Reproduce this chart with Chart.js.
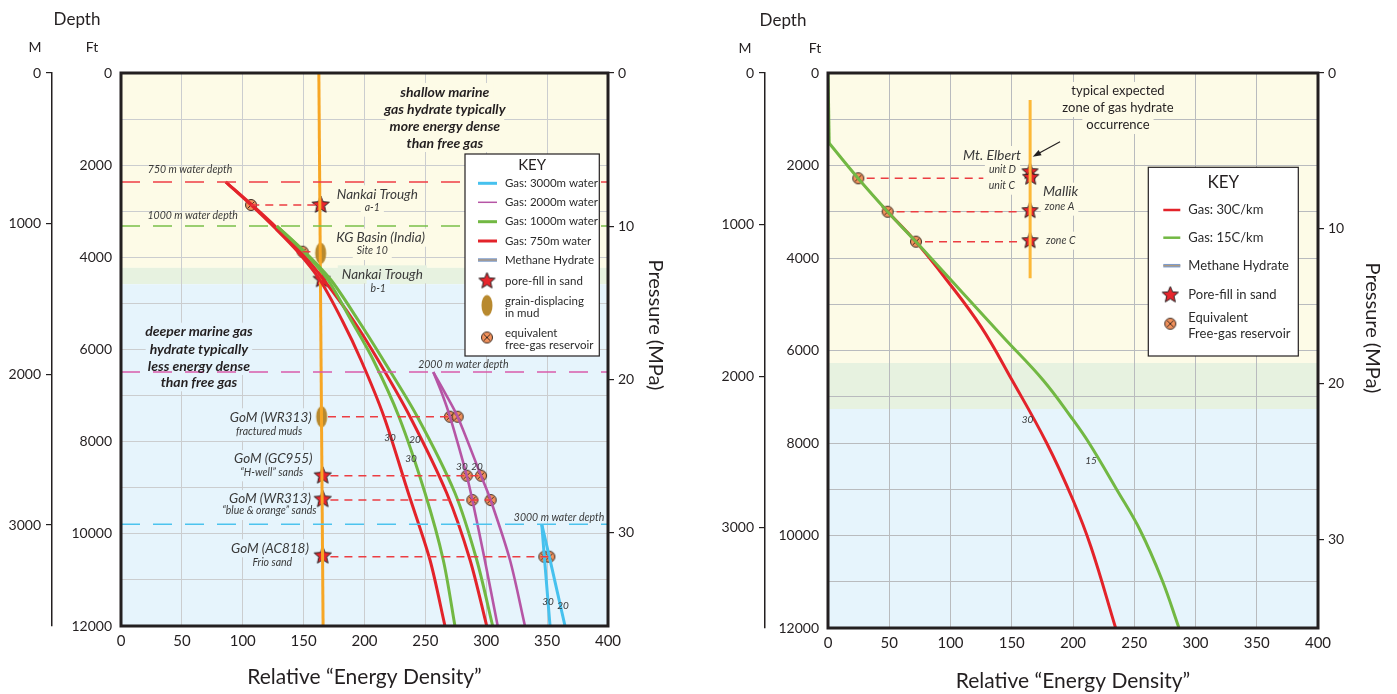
<!DOCTYPE html>
<html>
<head>
<meta charset="utf-8">
<script src="https://cdn.jsdelivr.net/npm/chart.js@4.4.0/dist/chart.umd.min.js"></script>
<style>
  body { margin: 0; background: #fff; }
  #wrap { position: relative; width: 1397px; height: 694px; }
  #marineCanvas { position: absolute; left: 0; top: 0; }
  #permafrostCanvas { position: absolute; left: 698px; top: 0; }
</style>
</head>
<body>
<div id="wrap">
  <canvas id="marineCanvas" width="698" height="694"></canvas>
  <canvas id="permafrostCanvas" width="699" height="694"></canvas>
</div>
<script>
// ---------------- axes ----------------
var energyTicks = [0, 50, 100, 150, 200, 250, 300, 350, 400];
var feetTicks = [0, 1000, 2000, 3000, 4000, 5000, 6000, 7000, 8000, 9000, 10000, 11000, 12000];
var feetLabels = [0, 2000, 4000, 6000, 8000, 10000, 12000];
var meterTicks = [0, 1000, 2000, 3000];
var mpaTicks = [0, 10, 20, 30];

// ---------------- left panel: marine (x = energy density, y = depth ft) ----------------
var gas750_30 = [[86, 2365], [106.8, 2864], [126.5, 3364], [145.4, 3884], [163.4, 4492], [181.5, 5360], [197.1, 6228], [216, 7458], [236, 9114], [253.8, 10568], [266.1, 12000]];
var gas750_20 = [[86, 2365], [107.6, 2864], [128.1, 3364], [147.8, 3884], [166.7, 4492], [190.6, 5360], [211.1, 6228], [237.4, 7458], [267.5, 9114], [286.7, 10568], [300.4, 12000]];
var gas1000_30 = [[128, 3320], [150.3, 3884], [170, 4492], [188.9, 5360], [207.2, 6228], [228.3, 7458], [249.7, 9114], [264.7, 10568], [274.3, 12000]];
var gas1000_20 = [[128, 3320], [151.1, 3884], [172.5, 4492], [194.7, 5360], [215.4, 6228], [243.4, 7458], [274.3, 9114], [292.2, 10568], [305.3, 12000]];
var gas2000_30 = [[256.5, 6490], [263.4, 6940], [270.2, 7458], [284, 8739], [288.6, 9266], [298.8, 10568], [309.4, 12000]];
var gas2000_20 = [[256.5, 6490], [266.1, 6940], [276.5, 7458], [295.7, 8739], [303.6, 9266], [319.5, 10568], [331.8, 12000]];
var gas3000_30 = [[345.6, 9793], [347.7, 10496], [352.4, 12000]];
var gas3000_20 = [[345.6, 9793], [351.8, 10496], [364.7, 12000]];
var hydrateMarine = [[162.5, 0], [166, 12000]];
var waterDepthFt = [2365, 3320, 6490, 9793];          // 750, 1000, 2000, 3000 m
var poreFillMarine = [[164, 2864], [164.8, 4477], [165.7, 8739], [165.7, 9251], [165.7, 10475]];
var grainMudMarine = [[164, 3912], [164.8, 7458]];
var freeGasMarine = [[106.8, 2864], [149.2, 3878], [270.2, 7458], [276.5, 7458], [284, 8739], [295.7, 8739], [288.6, 9266], [303.6, 9266], [347.7, 10496], [351.8, 10496]];
var tiesMarine = [[107, 163, 2864], [149, 160, 3878], [170, 270, 7458], [172, 296, 8739], [172, 303.6, 9266], [172, 352, 10496]];
var bandsMarine = [0, 4228, 4585, 12000];

// ---------------- right panel: permafrost ----------------
var gas30C = [[44.3, 2876], [48.7, 3000], [71.8, 3649], [96.9, 4475], [124.9, 5485], [150.2, 6638], [178.5, 8000], [200, 9232], [214.7, 10249], [234.8, 12000]];
var gas15C = [[0, 0], [1, 1520], [24.7, 2282], [48.7, 3000], [71.8, 3649], [107.8, 4692], [143.7, 5730], [175.5, 6638], [198.4, 7438], [213.1, 8000], [235.9, 9016], [254.7, 9881], [272.7, 10962], [286.5, 12000]];
var hydratePermafrost = [[165, 584], [165, 4439]];
var poreFillPermafrost = [[164.9, 2134], [165.5, 2255], [164.9, 2977], [164.9, 3626]];
var freeGasPermafrost = [[24.7, 2277], [48.7, 2999], [71.8, 3647]];
var tiesPermafrost = [[31.6, 126.8, 2277], [56, 154, 2999], [79.2, 156.7, 3647]];
var bandsPermafrost = [0, 6270, 7265, 12000];

// ---------------- labels ----------------
var notesMarine = [
  ['shallow marine', 266, 412, 'bold'], ['gas hydrate typically', 266, 781, 'bold'],
  ['more energy dense', 266, 1150, 'bold'], ['than free gas', 266, 1519, 'bold'],
  ['750 m water depth', 56.7, 2090, 'depth'], ['1000 m water depth', 58.9, 3103, 'depth'],
  ['Nankai Trough', 210.5, 2632, 'well'], ['a-1', 206.4, 2923, 'sub'],
  ['KG Basin (India)', 213.3, 3574, 'well'], ['Site 10', 206.4, 3863, 'sub'],
  ['Nankai Trough', 214.6, 4368, 'well'], ['b-1', 211.3, 4687, 'sub'],
  ['deeper marine gas', 64, 5614, 'bold'], ['hydrate typically', 64, 5989, 'bold'],
  ['less energy dense', 64, 6358, 'bold'], ['than free gas', 64, 6712, 'bold'],
  ['2000 m water depth', 281.2, 6336, 'depth'],
  ['GoM (WR313)', 123, 7471, 'well'], ['fractured muds', 121.6, 7784, 'sub'],
  ['GoM (GC955)', 125.1, 8376, 'well'], ['\u201cH-well\u201d sands', 123.8, 8665, 'sub'],
  ['GoM (WR313)', 122.4, 9244, 'well'], ['\u201cblue & orange\u201d sands', 121.8, 9505, 'sub'],
  ['3000 m water depth', 359.8, 9641, 'depth'],
  ['GoM (AC818)', 122.4, 10314, 'well'], ['Frio sand', 124.3, 10627, 'sub'],
  ['30', 221, 7917, 'curve'], ['20', 241.5, 7960, 'curve'], ['30', 238.2, 8373, 'curve'],
  ['30', 280, 8547, 'curve'], ['20', 292.4, 8547, 'curve'],
  ['30', 350.7, 11479, 'curve'], ['20', 363, 11566, 'curve']
];
var notesPermafrost = [
  ['typical expected', 236.7, 389, 'note'], ['zone of gas hydrate', 236.7, 757, 'note'], ['occurrence', 236.7, 1124, 'note'],
  ['Mt. Elbert', 133.9, 1773, 'wellR'], ['unit D', 153.5, 2097, 'subRight'], ['unit C', 152.7, 2437, 'subRight'],
  ['Mallik', 175.5, 2566, 'wellLeft'], ['zone A', 177, 2890, 'subLeft'], ['zone C', 178, 3626, 'subLeft'],
  ['30', 162.9, 7502, 'curve'], ['15', 214.7, 8389, 'curve']
];
var arrowPermafrost = [[189.4, 1485], [167.1, 1810]];

// ---------------- styles ----------------
var FONT = 'Lato, "Open Sans", "DejaVu Sans", sans-serif';
var INK = '#231f20';
var C = {
  red: '#e3232a', green: '#72b843', magenta: '#b655a5', cyan: '#46c1ee',
  orange: '#f7a624', orangeR: '#fcb838', tie: '#ec3d42',
  wRed: '#ee3e45', wGreen: '#79c04a', wMagenta: '#d95bab', wCyan: '#4cc3ee'
};
var bandColors = ['#fdfbe7', '#e7f2e0', '#e6f4fc'];
var noteStyles = {
  bold: { font: 'italic bold 14px ' + FONT, color: INK, align: 'center', bg: true },
  well: { font: 'italic 13.5px ' + FONT, color: '#3a3a3a', align: 'center', bg: true },
  wellR: { font: 'italic 14px ' + FONT, color: '#3a3a3a', align: 'center', bg: true },
  wellLeft: { font: 'italic 14px ' + FONT, color: '#3a3a3a', align: 'left', bg: true },
  sub: { font: 'italic 10.5px ' + FONT, color: '#3a3a3a', align: 'center', bg: true },
  subRight: { font: 'italic 10.5px ' + FONT, color: '#3a3a3a', align: 'right', bg: true },
  subLeft: { font: 'italic 10.5px ' + FONT, color: '#3a3a3a', align: 'left', bg: true },
  depth: { font: 'italic 10.5px ' + FONT, color: '#3a3a3a', align: 'center', bg: false },
  curve: { font: 'italic 10px ' + FONT, color: '#3a3a3a', align: 'center', bg: false },
  note: { font: '13px ' + FONT, color: INK, align: 'center', bg: true }
};

// ---------------- marker images ----------------
function starImage(r) {
  var c = document.createElement('canvas');
  c.width = c.height = Math.ceil(r * 2 + 4);
  var g = c.getContext('2d'), cx = c.width / 2, cy = c.height / 2;
  g.beginPath();
  for (var i = 0; i < 10; i++) {
    var rad = i % 2 ? r * 0.45 : r;
    var a = -Math.PI / 2 + i * Math.PI / 5;
    g.lineTo(cx + rad * Math.cos(a), cy + rad * Math.sin(a));
  }
  g.closePath();
  g.fillStyle = '#e8262d';
  g.fill();
  g.lineWidth = 1;
  g.strokeStyle = INK;
  g.stroke();
  return c;
}
function mudImage() {
  var c = document.createElement('canvas');
  c.width = 14; c.height = 24;
  var g = c.getContext('2d');
  g.beginPath();
  g.ellipse(7, 12, 5.5, 10.5, 0, 0, Math.PI * 2);
  g.fillStyle = '#b8892e';
  g.fill();
  return c;
}
function gasImage(r) {
  var c = document.createElement('canvas');
  c.width = c.height = Math.ceil(r * 2 + 3);
  var g = c.getContext('2d'), m = c.width / 2, d = r * 0.6;
  g.beginPath();
  g.arc(m, m, r, 0, Math.PI * 2);
  g.fillStyle = '#f3925c';
  g.fill();
  g.lineWidth = 1;
  g.strokeStyle = '#3b2b22';
  g.stroke();
  g.beginPath();
  g.moveTo(m - d, m - d); g.lineTo(m + d, m + d);
  g.moveTo(m + d, m - d); g.lineTo(m - d, m + d);
  g.stroke();
  return c;
}
var starBig = starImage(9), starSmall = starImage(8.5), mudMark = mudImage(), gasMark = gasImage(5.5);

// ---------------- dataset helpers ----------------
function pts(pairs) {
  return pairs.map(function (p) { return { x: p[0], y: p[1] }; });
}
function curve(pairs, color, width, tension) {
  return { data: pts(pairs), showLine: true, borderColor: color, borderWidth: width, pointRadius: 0, tension: tension, fill: false, yAxisID: 'y' };
}
function hline(x0, x1, ft, color, width, dash) {
  return { data: [{ x: x0, y: ft }, { x: x1, y: ft }], showLine: true, borderColor: color, borderWidth: width, borderDash: dash, pointRadius: 0, tension: 0, yAxisID: 'y' };
}
function markers(pairs, img) {
  return { data: pts(pairs), showLine: false, pointStyle: img, pointRadius: 6, pointHoverRadius: 6, yAxisID: 'y' };
}
function tick(v) { return { value: v }; }

// ---------------- drawing helpers ----------------
function bandColorAt(edges, ft) {
  for (var i = 0; i < edges.length - 1; i++) {
    if (ft >= edges[i] && ft < edges[i + 1]) return bandColors[i];
  }
  return bandColors[bandColors.length - 1];
}
function text(ctx, s, x, y, font, color, align) {
  ctx.font = font;
  ctx.fillStyle = color;
  ctx.textAlign = align || 'center';
  ctx.textBaseline = 'middle';
  ctx.fillText(s, x, y);
}
function drawKey(ctx, k) {
  var b = k.box;
  ctx.save();
  ctx.fillStyle = '#fff';
  ctx.fillRect(b[0], b[1], b[2], b[3]);
  ctx.lineWidth = 1.2;
  ctx.strokeStyle = INK;
  ctx.strokeRect(b[0], b[1], b[2], b[3]);
  text(ctx, 'KEY', b[0] + b[2] / 2, b[1] + k.titleY, k.titleSize + 'px ' + FONT, INK, 'center');
  k.items.forEach(function (it, i) {
    var y = b[1] + k.rows[i];
    var mx = b[0] + k.markX;
    if (it.kind === 'line' || it.kind === 'hydrate') {
      ctx.beginPath();
      ctx.moveTo(b[0] + k.swatch[0], y);
      ctx.lineTo(b[0] + k.swatch[1], y);
      ctx.lineWidth = it.kind === 'line' ? it.width : 3.5;
      ctx.strokeStyle = it.kind === 'line' ? it.color : '#7e9ccb';
      ctx.stroke();
      if (it.kind === 'hydrate') {
        ctx.lineWidth = 1.1;
        ctx.strokeStyle = '#b89a72';
        ctx.stroke();
      }
    } else {
      var img = it.kind === 'star' ? starSmall : it.kind === 'mud' ? mudMark : gasMark;
      ctx.drawImage(img, mx - img.width / 2, y - img.height / 2 + (it.kind === 'mud' || it.kind === 'gas' ? -2 : 0));
    }
    var n = it.label.length;
    it.label.forEach(function (s, j) {
      text(ctx, s, b[0] + k.textX, y + (j - (n - 1) / 2) * k.lineGap, k.fontSize + 'px ' + FONT, '#2b2b2b', 'left');
    });
  });
  ctx.restore();
}

function panelPlugin(p) {
  return {
    id: 'panel',
    beforeDraw: function (chart) {
      var ctx = chart.ctx, a = chart.chartArea, ys = chart.scales.y;
      ctx.save();
      for (var i = 0; i < p.bands.length - 1; i++) {
        var y0 = ys.getPixelForValue(p.bands[i]), y1 = ys.getPixelForValue(p.bands[i + 1]);
        ctx.fillStyle = bandColors[i];
        ctx.fillRect(a.left, y0, a.right - a.left, y1 - y0);
      }
      ctx.restore();
    },
    beforeDatasetsDraw: function (chart) {
      // clear grid behind labels, as in the original artwork
      var ctx = chart.ctx, xs = chart.scales.x, ys = chart.scales.y;
      ctx.save();
      p.notes.forEach(function (n) {
        var st = noteStyles[n[3]];
        if (!st.bg) return;
        ctx.font = st.font;
        var w = ctx.measureText(n[0]).width + 8;
        var x = xs.getPixelForValue(n[1]), y = ys.getPixelForValue(n[2]);
        var x0 = st.align === 'left' ? x - 4 : st.align === 'right' ? x - w + 4 : x - w / 2;
        ctx.fillStyle = bandColorAt(p.bands, n[2]);
        ctx.fillRect(x0, y - 9, w, 18);
      });
      ctx.restore();
    },
    afterDatasetsDraw: function (chart) {
      var ctx = chart.ctx, a = chart.chartArea, xs = chart.scales.x, ys = chart.scales.y;
      ctx.save();
      ctx.lineWidth = 3;
      ctx.strokeStyle = INK;
      ctx.strokeRect(a.left, a.top, a.right - a.left, a.bottom - a.top);
      p.notes.forEach(function (n) {
        var st = noteStyles[n[3]];
        text(ctx, n[0], xs.getPixelForValue(n[1]), ys.getPixelForValue(n[2]), st.font, st.color, st.align);
      });
      if (p.arrow) {
        var x0 = xs.getPixelForValue(p.arrow[0][0]), y0 = ys.getPixelForValue(p.arrow[0][1]);
        var x1 = xs.getPixelForValue(p.arrow[1][0]), y1 = ys.getPixelForValue(p.arrow[1][1]);
        var ang = Math.atan2(y1 - y0, x1 - x0);
        ctx.beginPath();
        ctx.moveTo(x0, y0);
        ctx.lineTo(x1 - 6 * Math.cos(ang), y1 - 6 * Math.sin(ang));
        ctx.lineWidth = 1.2;
        ctx.strokeStyle = INK;
        ctx.stroke();
        ctx.beginPath();
        ctx.moveTo(x1, y1);
        ctx.lineTo(x1 - 9 * Math.cos(ang - 0.35), y1 - 9 * Math.sin(ang - 0.35));
        ctx.lineTo(x1 - 9 * Math.cos(ang + 0.35), y1 - 9 * Math.sin(ang + 0.35));
        ctx.closePath();
        ctx.fillStyle = INK;
        ctx.fill();
      }
      ctx.restore();
    },
    afterDraw: function (chart) {
      var ctx = chart.ctx;
      ctx.save();
      drawKey(ctx, p.key);
      p.head.forEach(function (h) {
        text(ctx, h[0], h[1], h[2], h[3] + 'px ' + FONT, INK, 'center');
      });
      ctx.translate(p.pressure[0], p.pressure[1]);
      ctx.rotate(Math.PI / 2);
      text(ctx, 'Pressure (MPa)', 0, 0, '20px ' + FONT, INK, 'center');
      ctx.restore();
    }
  };
}

function buildChart(id, g, datasets, extras) {
  var tickFont = { family: FONT, size: 14 };
  return new Chart(document.getElementById(id), {
    type: 'scatter',
    data: { datasets: datasets },
    options: {
      responsive: false,
      animation: false,
      events: [],
      layout: { padding: { left: 0, right: g.padRight, top: g.top, bottom: 0 }, autoPadding: false },
      plugins: { legend: { display: false }, tooltip: { enabled: false } },
      scales: {
        x: {
          type: 'linear', position: 'bottom', min: 0, max: 400,
          afterBuildTicks: function (s) { s.ticks = energyTicks.map(tick); },
          afterFit: function (s) { s.height = g.xH; },
          grid: { color: g.grid, lineWidth: 1, drawTicks: false },
          border: { display: false },
          ticks: { padding: 6, color: INK, font: { family: FONT, size: 15 }, callback: function (v) { return String(v); } },
          title: { display: true, text: 'Relative \u201cEnergy Density\u201d', color: INK, font: { family: FONT, size: 21 }, padding: { top: 0, bottom: g.titlePad } }
        },
        y: {
          type: 'linear', position: 'left', min: 0, max: 12000, reverse: true, weight: 0,
          afterBuildTicks: function (s) { s.ticks = feetTicks.map(tick); },
          afterFit: function (s) { s.width = g.yW; },
          grid: { color: g.grid, lineWidth: 1, drawTicks: false },
          border: { display: false },
          ticks: { padding: 9, color: INK, font: tickFont, callback: function (v) { return feetLabels.indexOf(v) >= 0 ? String(v) : ''; } }
        },
        ym: {
          type: 'linear', position: 'left', min: 0, max: g.mMax, reverse: true, weight: 1,
          afterBuildTicks: function (s) { s.ticks = meterTicks.map(tick); },
          afterFit: function (s) { s.width = g.mW; },
          grid: { drawOnChartArea: false, drawTicks: true, tickLength: 6, color: INK, lineWidth: 1.2 },
          border: { display: true, color: INK, width: 1.5 },
          ticks: { padding: 5, color: INK, font: tickFont, callback: function (v) { return String(v); } }
        },
        yp: {
          type: 'linear', position: 'right', min: 0, max: g.pMax, reverse: true,
          afterBuildTicks: function (s) { s.ticks = mpaTicks.map(tick); },
          afterFit: function (s) { s.width = g.pW; },
          grid: { drawOnChartArea: false, drawTicks: true, tickLength: 6, color: INK, lineWidth: 1.2 },
          border: { display: false },
          ticks: { padding: 4, color: INK, font: tickFont, callback: function (v) { return String(v); } }
        }
      }
    },
    plugins: [panelPlugin(extras)]
  });
}

// ---------------- left chart ----------------
var waterColors = [C.wRed, C.wGreen, C.wMagenta, C.wCyan];
var marineSets = [];
waterDepthFt.forEach(function (ft, i) {
  marineSets.push(hline(0, 400, ft, waterColors[i], 1.5, [19, 13]));
});
tiesMarine.forEach(function (t) { marineSets.push(hline(t[0], t[1], t[2], C.tie, 1.5, [8, 6])); });
marineSets.push(
  curve(gas3000_30, C.cyan, 3, 0), curve(gas3000_20, C.cyan, 3, 0),
  curve(gas2000_30, C.magenta, 2.6, 0.3), curve(gas2000_20, C.magenta, 2.6, 0.3),
  curve(gas1000_30, C.green, 3, 0.3), curve(gas1000_20, C.green, 3, 0.3),
  curve(gas750_30, C.red, 3, 0.3), curve(gas750_20, C.red, 3, 0.3),
  curve(hydrateMarine, C.orange, 3, 0),
  markers(freeGasMarine, gasMark), markers(grainMudMarine, mudMark), markers(poreFillMarine, starBig)
);

buildChart('marineCanvas',
  { padRight: 30, top: 73, xH: 68, titlePad: 4, yW: 69, mW: 52, pW: 60, mMax: 3670, pMax: 36.07, grid: '#cbcdcf' },
  marineSets,
  {
    bands: bandsMarine, notes: notesMarine, arrow: null,
    head: [['Depth', 77, 20, 17], ['M', 35, 47, 14], ['Ft', 92, 47, 14]],
    pressure: [655, 325],
    key: {
      box: [465, 154, 134.3, 202], titleY: 11, titleSize: 15, fontSize: 11.5, lineGap: 12,
      rows: [29.3, 48.3, 67.7, 87, 106, 127, 153.5, 185.5], swatch: [13, 32], markX: 22, textX: 40,
      items: [
        { kind: 'line', color: C.cyan, width: 3, label: ['Gas: 3000m water'] },
        { kind: 'line', color: C.magenta, width: 1.5, label: ['Gas: 2000m water'] },
        { kind: 'line', color: C.green, width: 3, label: ['Gas: 1000m water'] },
        { kind: 'line', color: C.red, width: 3, label: ['Gas: 750m water'] },
        { kind: 'hydrate', label: ['Methane Hydrate'] },
        { kind: 'star', label: ['pore-fill in sand'] },
        { kind: 'mud', label: ['grain-displacing', 'in mud'] },
        { kind: 'gas', label: ['equivalent', 'free-gas reservoir'] }
      ]
    }
  });

// ---------------- right chart ----------------
var permafrostSets = [];
tiesPermafrost.forEach(function (t) { permafrostSets.push(hline(t[0], t[1], t[2], C.tie, 1.5, [8, 6])); });
permafrostSets.push(
  curve(gas15C.slice(0, 2), C.green, 3, 0),     // vertical stretch above the kink
  curve(gas15C.slice(1), C.green, 3, 0.4),
  curve(gas30C, C.red, 3, 0.4),
  curve(hydratePermafrost, C.orangeR, 3, 0),
  markers(freeGasPermafrost, gasMark), markers(poreFillPermafrost, starSmall)
);

buildChart('permafrostCanvas',
  { padRight: 13, top: 73, xH: 66, titlePad: 0, yW: 63, mW: 67, pW: 66, mMax: 3660, pMax: 35.7, grid: '#b9bbbe' },
  permafrostSets,
  {
    bands: bandsPermafrost, notes: notesPermafrost, arrow: arrowPermafrost,
    head: [['Depth', 85, 21, 17], ['M', 47, 48, 14], ['Ft', 117, 48, 14]],
    pressure: [674, 328],
    key: {
      box: [450.3, 167.3, 150, 188.7], titleY: 15.7, titleSize: 17, fontSize: 13, lineGap: 15.3,
      rows: [42.7, 70.4, 98.4, 127.7, 158.4], swatch: [15, 32], markX: 22, textX: 40,
      items: [
        { kind: 'line', color: C.red, width: 2.5, label: ['Gas: 30C/km'] },
        { kind: 'line', color: C.green, width: 2.5, label: ['Gas: 15C/km'] },
        { kind: 'hydrate', label: ['Methane Hydrate'] },
        { kind: 'star', label: ['Pore-fill in sand'] },
        { kind: 'gas', label: ['Equivalent', 'Free-gas reservoir'] }
      ]
    }
  });
</script>
</body>
</html>
